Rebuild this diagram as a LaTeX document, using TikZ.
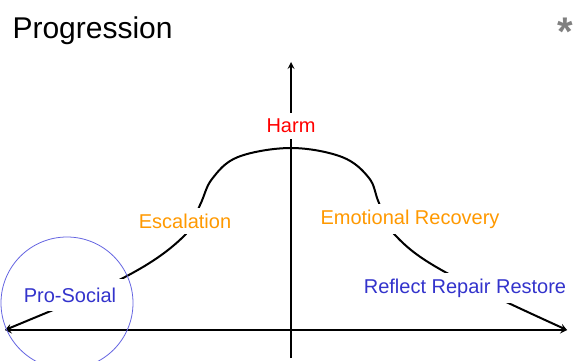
\documentclass[tikz,border=0pt]{standalone}
\usepackage{fontspec}
\setmainfont{Liberation Sans}
\usepackage{tikz}
\usetikzlibrary{arrows}
\usepackage{xcolor}
\definecolor{harmred}{RGB}{255,0,0}
\definecolor{stageorange}{RGB}{255,153,0}
\definecolor{stageblue}{RGB}{51,51,204}
\definecolor{ringblue}{RGB}{100,100,225}
\definecolor{stargray}{RGB}{128,128,128}

\begin{document}
\begin{tikzpicture}[x=1pt,y=-1pt,
		axisline/.style={line width=2pt,->,>=stealth},
		stage/.style={fill=white,inner xsep=3pt,inner ysep=6pt,font=\fontsize{20}{23}\selectfont}]
					\useasboundingbox (0,0) rectangle (573,361);
					
					\node[anchor=base west,font=\fontsize{30}{36}\selectfont] (title) at (9,39) {Progression};
					\node[text=stargray,font=\fontsize{40}{44}\selectfont\bfseries] (star) at (565,32) {*};
					
					\coordinate (left) at (5,330);
					\coordinate (right) at (567,330);
					\coordinate (bottom) at (291,358);
					\coordinate (top) at (291,62);
					
					\draw[axisline,<->] (left) -- (right);
					\draw[axisline] (bottom) -- (top);
					
					% the bell curve
					\draw[line width=2pt,<->,>=stealth] plot[smooth,tension=0.6] coordinates {(left) (125,277) (183,237) (200,205) (212,179) (238,157) (291,148) (342,157) (369,178) (379,203) (395,235) (445,272) (right)};
					
					\node[stage,text=harmred] (harm) at (291,126) {Harm};
					\node[stage,text=stageorange] (esc) at (185,221) {Escalation};
					\node[stage,text=stageorange] (emo) at (410,219) {Emotional Recovery};
					\node[stage,text=stageblue,inner xsep=8pt,inner ysep=9pt] (pro) at (70,295) {Pro-Social};
					\node[stage,text=stageblue] (rrr) at (465,288) {Reflect Repair Restore};
					
					\draw[ringblue,line width=0.8pt] (67,303) circle (66);
				\end{tikzpicture}
\end{document}
